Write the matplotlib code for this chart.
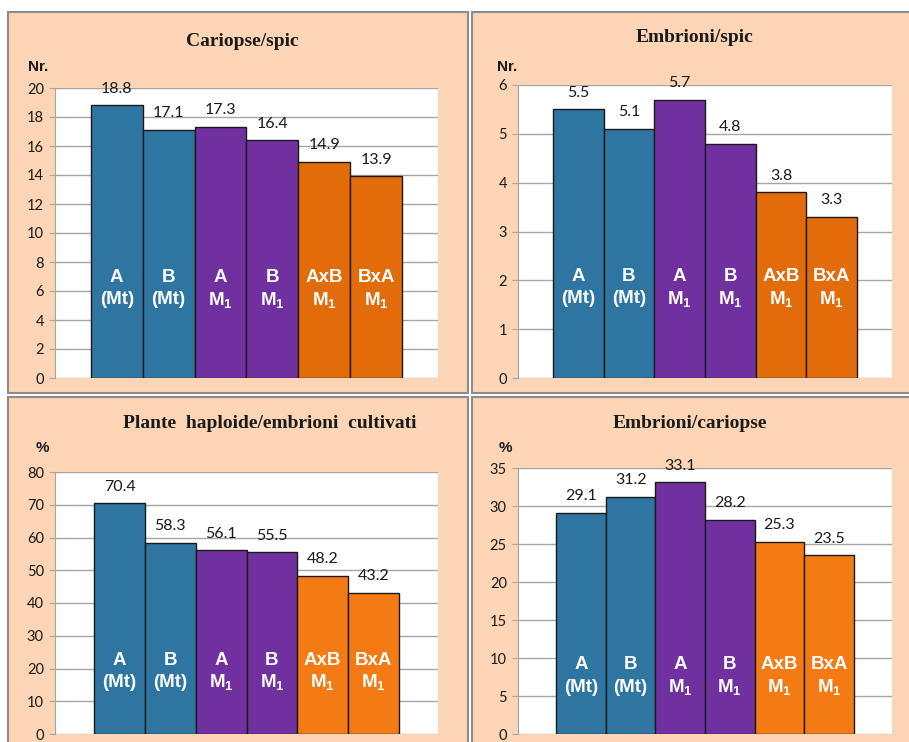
import matplotlib
matplotlib.use("Agg")
import matplotlib.pyplot as plt
from matplotlib.patches import Rectangle
from matplotlib.transforms import blended_transform_factory

plt.rcParams['mathtext.fontset'] = 'custom'
plt.rcParams['mathtext.rm'] = 'Liberation Sans'
plt.rcParams['mathtext.bf'] = 'Liberation Sans:bold'

# ---- data ----
line1_labels = ["A", "B", "A", "B", "AxB", "BxA"]
line2_labels = ["(Mt)", "(Mt)", r"$\mathbf{M_1}$", r"$\mathbf{M_1}$", r"$\mathbf{M_1}$", r"$\mathbf{M_1}$"]

titles = ["Cariopse/spic", "Embrioni/spic",
          "Plante  haploide/embrioni  cultivati", "Embrioni/cariopse"]
units = ["Nr.", "Nr.", "%", "%"]

cariopse_spic = [18.8, 17.1, 17.3, 16.4, 14.9, 13.9]
embrioni_spic = [5.5, 5.1, 5.7, 4.8, 3.8, 3.3]
plante_haploide = [70.4, 58.3, 56.1, 55.5, 48.2, 43.2]
embrioni_cariopse = [29.1, 31.2, 33.1, 28.2, 25.3, 23.5]

y_max = [20, 6, 80, 35]
y_step = [2, 1, 10, 5]

# ---- styling ----
W, H = 909, 742
blue = "#2E75A1"
purple = "#7030A0"
orange_top = "#E36C0A"
orange_bot = "#F47A14"
peach = "#FBD5B5"
grid_c = "#A6A6A6"

fig = plt.figure(figsize=(W / 100, H / 100), dpi=100)
fig.patch.set_facecolor("white")

def px_rect(x0, y0, x1, y1):
    return (x0 / W, 1 - y1 / H, (x1 - x0) / W, (y1 - y0) / H)

# panel backgrounds
panels = [(8, 12, 468, 393), (472, 12, 915, 393), (8, 397, 468, 752), (472, 397, 915, 752)]
for (x0, y0, x1, y1) in panels:
    l, b, w, h = px_rect(x0, y0, x1, y1)
    fig.patches.append(Rectangle((l, b), w, h, transform=fig.transFigure,
                                 facecolor=peach, edgecolor="#8C8C8C", lw=1.5, zorder=-10))

axes_px = [(55, 88, 438, 378), (518, 85, 892, 378), (55, 472, 438, 734), (518, 468, 892, 734)]
xlims = [(-1.19, 6.19), (-1.19, 6.19), (-1.27, 6.27), (-1.27, 6.27)]
title_pos = [(242, 42), (695, 37), (270, 423), (690, 423)]
unit_pos = [(38, 67), (507, 67), (42, 448), (505, 448)]
inner_y = [(0.345, 0.27), (0.345, 0.27), (0.282, 0.198), (0.263, 0.176)]
datasets = [cariopse_spic, embrioni_spic, plante_haploide, embrioni_cariopse]
oranges = [orange_top, orange_top, orange_bot, orange_bot]

for i in range(4):
    ax = fig.add_axes(px_rect(*axes_px[i]), zorder=1)
    ax.set_facecolor("white")
    vals = datasets[i]
    colors = [blue, blue, purple, purple, oranges[i], oranges[i]]
    xs = list(range(len(vals)))
    ax.bar(xs, vals, width=1.0, color=colors, edgecolor="#1A1A1A", lw=1.0, zorder=3)
    ax.set_xlim(*xlims[i])
    ax.set_ylim(0, y_max[i])
    ax.set_yticks(range(0, y_max[i] + 1, y_step[i]))
    ax.set_xticks([])
    ax.grid(axis="y", color=grid_c, lw=1.0, zorder=0)
    ax.set_axisbelow(True)
    for s in ["top", "right", "bottom"]:
        ax.spines[s].set_visible(False)
    ax.spines["left"].set_color(grid_c)
    ax.tick_params(axis="y", length=4, color=grid_c, labelsize=10.5, labelcolor="#1A1A1A", pad=4)
    for lab in ax.get_yticklabels():
        lab.set_fontfamily("Lato")
    for x, v in zip(xs, vals):
        ax.annotate(f"{v:.1f}", (x, v), xytext=(0, 12), textcoords="offset points",
                    ha="center", va="center", fontsize=11.5, family="Lato", color="#1A1A1A", zorder=4)
    tr = blended_transform_factory(ax.transData, ax.transAxes)
    for x, t1, t2 in zip(xs, line1_labels, line2_labels):
        ax.text(x, inner_y[i][0], t1, transform=tr, ha="center", va="center",
                fontsize=13.5, fontweight="bold", family="Liberation Sans", color="white", zorder=5)
        ax.text(x, inner_y[i][1], t2, transform=tr, ha="center", va="center",
                fontsize=13.5, fontweight="bold", family="Liberation Sans", color="white", zorder=5)
    tx, ty = title_pos[i]
    fig.text(tx / W, 1 - ty / H, titles[i], ha="center", va="center", fontsize=14,
             fontweight="bold", family="Liberation Serif", color="#1A1A1A")
    ux, uy = unit_pos[i]
    fig.text(ux / W, 1 - uy / H, units[i], ha="center", va="center", fontsize=11,
             fontweight="bold", family="Liberation Sans", color="#1A1A1A")

fig.savefig("out.png", dpi=100, facecolor="white")
